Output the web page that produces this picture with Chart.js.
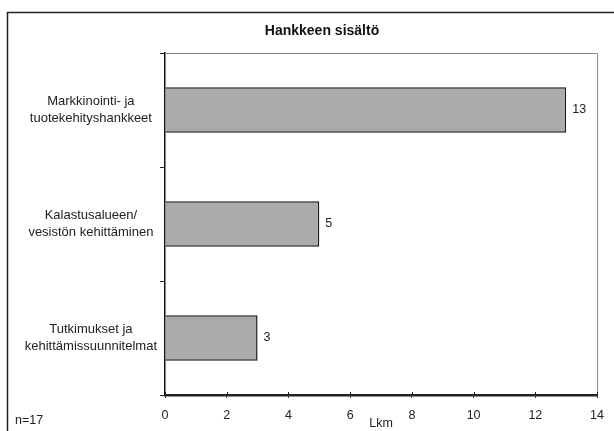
<!DOCTYPE html>
<html>
<head>
<meta charset="utf-8">
<script src="https://cdn.jsdelivr.net/npm/chart.js@4/dist/chart.umd.min.js"></script>
<style>
  html, body { margin: 0; padding: 0; background: #fff; }
  #wrap { width: 614px; height: 431px; position: relative; }
</style>
</head>
<body>
<div id="wrap"><canvas id="c" width="614" height="431"></canvas></div>
<script>
// Project content categories (two-line labels) and counts
const categories = [
  ['Markkinointi- ja', 'tuotekehityshankkeet'],
  ['Kalastusalueen/', 'vesistön kehittäminen'],
  ['Tutkimukset ja', 'kehittämissuunnitelmat']
];
const counts = [13, 5, 3];
const xTicks = [0, 2, 4, 6, 8, 10, 12, 14];
const chartTitle = 'Hankkeen sisältö';
const axisTitle = 'Lkm';
const sampleNote = 'n=17';

const FONT = '"Liberation Sans", Arial, sans-serif';
const TXT = 12.5;

// Frame, title, note, value labels and the upper half of the x ticks
const decorations = {
  id: 'decorations',
  afterDatasetsDraw(chart) {
    const ctx = chart.ctx;
    const meta = chart.getDatasetMeta(0);
    ctx.save();
    ctx.fillStyle = '#222';
    ctx.font = TXT + 'px ' + FONT;
    ctx.textAlign = 'left';
    ctx.textBaseline = 'middle';
    meta.data.forEach((bar, i) => {
      ctx.fillText(String(counts[i]), bar.x + 6, bar.y);
    });
    ctx.restore();
  },
  afterDraw(chart) {
    const ctx = chart.ctx;
    const area = chart.chartArea;
    const xs = chart.scales.x;
    ctx.save();
    // plot area top/right edges
    ctx.strokeStyle = '#8a8a8a';
    ctx.lineWidth = 1;
    ctx.beginPath();
    ctx.moveTo(area.left, area.top + 0.5);
    ctx.lineTo(area.right + 0.5, area.top + 0.5);
    ctx.lineTo(area.right + 0.5, area.bottom);
    ctx.stroke();
    // ticks crossing the x axis
    ctx.strokeStyle = '#222';
    ctx.lineWidth = 1;
    ctx.beginPath();
    xTicks.forEach(v => {
      const px = Math.round(xs.getPixelForValue(v)) + 0.5;
      ctx.moveTo(px, area.bottom - 3);
      ctx.lineTo(px, area.bottom);
    });
    ctx.stroke();
    // outer frame
    ctx.strokeStyle = '#222';
    ctx.lineWidth = 1.5;
    ctx.beginPath();
    ctx.moveTo(7.5, 431);
    ctx.lineTo(7.5, 12.5);
    ctx.lineTo(614, 12.5);
    ctx.stroke();
    // title
    ctx.fillStyle = '#111';
    ctx.font = 'bold 14px ' + FONT;
    ctx.textAlign = 'center';
    ctx.textBaseline = 'middle';
    ctx.fillText(chartTitle, 322, 31);
    // sample size note
    ctx.font = TXT + 'px ' + FONT;
    ctx.textAlign = 'left';
    ctx.fillStyle = '#222';
    ctx.fillText(sampleNote, 15, 421);
    ctx.restore();
  }
};

new Chart(document.getElementById('c'), {
  type: 'bar',
  data: {
    labels: categories,
    datasets: [{
      data: counts,
      backgroundColor: '#ababab',
      borderColor: '#1a1a1a',
      borderWidth: 1.5,
      barPercentage: 0.4,
      categoryPercentage: 1.0
    }]
  },
  options: {
    indexAxis: 'y',
    responsive: false,
    animation: false,
    devicePixelRatio: 1,
    layout: { padding: { left: 8, right: 16, top: 53, bottom: 0 } },
    plugins: {
      legend: { display: false },
      title: { display: false },
      tooltip: { enabled: false }
    },
    scales: {
      x: {
        min: 0,
        max: 14,
        afterBuildTicks(scale) {
          scale.ticks = xTicks.map(v => ({ value: v }));
        },
        afterFit(scale) { scale.height = 36; },
        grid: {
          drawOnChartArea: false,
          drawTicks: true,
          tickLength: 3,
          color: '#222',
          lineWidth: 1
        },
        border: { display: true, color: '#222', width: 2.5 },
        ticks: {
          color: '#222',
          font: { family: FONT, size: TXT },
          padding: 10,
          maxRotation: 0
        },
        title: {
          display: true,
          text: axisTitle,
          color: '#222',
          font: { family: FONT, size: TXT },
          padding: { top: 0, bottom: 0 }
        }
      },
      y: {
        afterFit(scale) { scale.width = 157; },
        grid: {
          drawOnChartArea: false,
          drawTicks: true,
          tickLength: 5,
          offset: true,
          color: '#222',
          lineWidth: 1
        },
        border: { display: true, color: '#111', width: 1.5 },
        ticks: {
          color: '#222',
          font: { family: FONT, size: 13, lineHeight: 1.25 },
          crossAlign: 'center',
          padding: 3
        }
      }
    }
  },
  plugins: [decorations]
});
</script>
</body>
</html>
